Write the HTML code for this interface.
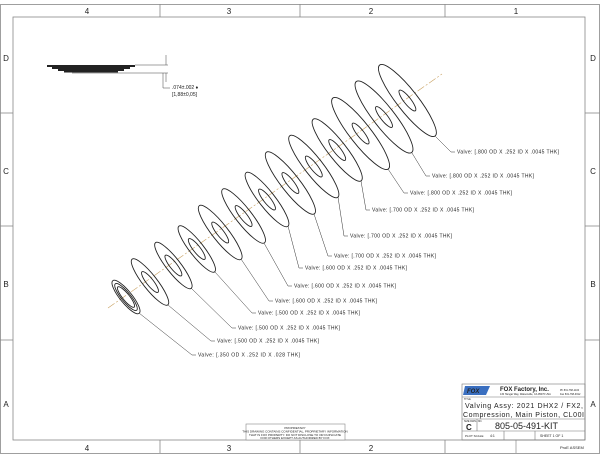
<!DOCTYPE html>
<html><head><meta charset="utf-8"><style>
html,body{margin:0;padding:0;background:#fff;width:600px;height:463px;overflow:hidden}
svg{display:block}
text{font-family:"Liberation Sans",sans-serif;fill:#222}
.m{font-family:"Liberation Mono",monospace;font-size:5px;fill:#333}
</style></head><body>
<svg width="600" height="463" viewBox="0 0 600 463" xmlns="http://www.w3.org/2000/svg">
<g stroke="#888" fill="none" stroke-width="0.8">
<rect x="0.5" y="4.5" width="599" height="449"/>
<rect x="13" y="17" width="572" height="423"/>
<line x1="160" y1="4" x2="160" y2="17"/><line x1="300" y1="4" x2="300" y2="17"/><line x1="445" y1="4" x2="445" y2="17"/>
<line x1="160" y1="440" x2="160" y2="453"/><line x1="300" y1="440" x2="300" y2="453"/><line x1="445" y1="440" x2="445" y2="453"/>
<line x1="0" y1="113" x2="13" y2="113"/><line x1="0" y1="226" x2="13" y2="226"/><line x1="0" y1="340" x2="13" y2="340"/>
<line x1="585" y1="113" x2="600" y2="113"/><line x1="585" y1="226" x2="600" y2="226"/><line x1="585" y1="340" x2="600" y2="340"/>
</g>
<g font-size="8" fill="#555" text-anchor="middle">
<text x="87" y="14">4</text><text x="229" y="14">3</text><text x="371" y="14">2</text><text x="516" y="14">1</text>
<text x="87" y="451">4</text><text x="229" y="451">3</text><text x="371" y="451">2</text>
<text x="6" y="61">D</text><text x="6" y="174">C</text><text x="6" y="287">B</text><text x="6" y="407">A</text>
<text x="593" y="61">D</text><text x="593" y="174">C</text><text x="593" y="287">B</text><text x="593" y="407">A</text>
</g>
<g fill="#222">
<rect x="47" y="65" width="88" height="2"/>
<rect x="52" y="67" width="78" height="2"/>
<rect x="58" y="69" width="66" height="2"/>
<rect x="64" y="71" width="54" height="1.5"/>
</g>
<g stroke="#444" stroke-width="0.5" fill="none">
<line x1="135" y1="65" x2="168" y2="65"/><line x1="72" y1="73" x2="168" y2="73"/>
<line x1="166" y1="55" x2="166" y2="65"/><line x1="166" y1="73" x2="166" y2="82"/>
<polyline points="163,73 163,88 170,88"/>
</g>
<text x="172" y="89" font-size="5" fill="#333">.074±.002 ♦</text>
<text x="172" y="96" font-size="5" fill="#333">[1,88±0,05]</text>
<line x1="108" y1="308" x2="442" y2="74" stroke="#c8a060" stroke-width="0.6" stroke-dasharray="8,2,2,2"/>
<g stroke="#222" fill="none" stroke-width="0.9">
<g transform="translate(126,297) rotate(51)"><ellipse rx="21" ry="6"/><ellipse rx="17" ry="4.6"/><ellipse rx="13" ry="3.4"/></g>
<g transform="translate(150,282) rotate(52)"><ellipse rx="29" ry="7"/><ellipse rx="13" ry="3.5"/></g>
<g transform="translate(173.4,265.5) rotate(52)"><ellipse rx="29" ry="7"/><ellipse rx="13" ry="3.5"/></g>
<g transform="translate(196.8,249) rotate(52)"><ellipse rx="29" ry="7"/><ellipse rx="13" ry="3.5"/></g>
<g transform="translate(220.2,232.5) rotate(52)"><ellipse rx="34" ry="8"/><ellipse rx="13" ry="3.5"/></g>
<g transform="translate(243.6,216) rotate(52)"><ellipse rx="34" ry="8"/><ellipse rx="13" ry="3.5"/></g>
<g transform="translate(267,199.5) rotate(52)"><ellipse rx="34" ry="8"/><ellipse rx="13" ry="3.5"/></g>
<g transform="translate(290.4,183) rotate(52)"><ellipse rx="39" ry="9"/><ellipse rx="13" ry="3.5"/></g>
<g transform="translate(313.8,166.5) rotate(52)"><ellipse rx="39" ry="9"/><ellipse rx="13" ry="3.5"/></g>
<g transform="translate(337.2,150) rotate(52)"><ellipse rx="39" ry="9"/><ellipse rx="13" ry="3.5"/></g>
<g transform="translate(360.6,133.5) rotate(52)"><ellipse rx="45" ry="10.5"/><ellipse rx="13" ry="3.5"/></g>
<g transform="translate(384,117) rotate(52)"><ellipse rx="45" ry="10.5"/><ellipse rx="13" ry="3.5"/></g>
<g transform="translate(407.4,100.5) rotate(52)"><ellipse rx="45" ry="10.5"/><ellipse rx="13" ry="3.5"/></g>
</g>
<g stroke="#333" stroke-width="0.5" fill="none">
<polyline points="139,313 192,355 196,355"/>
<polyline points="168,305 211,341 215,341"/>
<polyline points="191,288 232,328 236,328"/>
<polyline points="215,272 252,313 256,313"/>
<polyline points="241,259 269,301 273,301"/>
<polyline points="264,243 288,286 292,286"/>
<polyline points="288,226 299,268 303,268"/>
<polyline points="314,214 328,256 332,256"/>
<polyline points="338,197 344,236 348,236"/>
<polyline points="361,181 366,210 370,210"/>
<polyline points="388,169 404,193 408,193"/>
<polyline points="412,153 426,176 430,176"/>
<polyline points="435,136 451,152 455,152"/>
</g>
<g class="m">
<text x="198" y="356.6" textLength="102">Valve: [.350 OD X .252 ID X .028 THK]</text>
<text x="217" y="342.6" textLength="102">Valve: [.500 OD X .252 ID X .0045 THK]</text>
<text x="238" y="329.6" textLength="102">Valve: [.500 OD X .252 ID X .0045 THK]</text>
<text x="258" y="314.6" textLength="102">Valve: [.500 OD X .252 ID X .0045 THK]</text>
<text x="275" y="302.6" textLength="102">Valve: [.600 OD X .252 ID X .0045 THK]</text>
<text x="294" y="287.6" textLength="102">Valve: [.600 OD X .252 ID X .0045 THK]</text>
<text x="305" y="269.6" textLength="102">Valve: [.600 OD X .252 ID X .0045 THK]</text>
<text x="334" y="257.6" textLength="102">Valve: [.700 OD X .252 ID X .0045 THK]</text>
<text x="350" y="237.6" textLength="102">Valve: [.700 OD X .252 ID X .0045 THK]</text>
<text x="372" y="211.6" textLength="102">Valve: [.700 OD X .252 ID X .0045 THK]</text>
<text x="410" y="194.6" textLength="102">Valve: [.800 OD X .252 ID X .0045 THK]</text>
<text x="432" y="177.6" textLength="102">Valve: [.800 OD X .252 ID X .0045 THK]</text>
<text x="457" y="153.6" textLength="102">Valve: [.800 OD X .252 ID X .0045 THK]</text>
</g>
<rect x="246" y="424" width="99" height="16" fill="#fff" stroke="#888" stroke-width="0.6"/>
<g font-size="3" fill="#444" text-anchor="middle"><text x="295" y="429">PROPRIETARY</text><text x="295" y="432.5">THIS DRAWING CONTAINS CONFIDENTIAL, PROPRIETARY INFORMATION</text><text x="295" y="436">THAT IS FOX PROPERTY. DO NOT DISCLOSE TO OR DUPLICATE</text><text x="295" y="439">FOR OTHERS EXCEPT AS AUTHORIZED BY FOX</text></g>
<g stroke="#777" stroke-width="0.6" fill="none">
<rect x="462" y="384" width="123" height="56"/>
<line x1="462" y1="397" x2="585" y2="397"/>
<line x1="462" y1="419" x2="585" y2="419"/>
<line x1="462" y1="431" x2="585" y2="431"/>
<line x1="477" y1="419" x2="477" y2="431"/>
<line x1="504" y1="431" x2="504" y2="440"/>
<line x1="535" y1="431" x2="535" y2="440"/>
<line x1="516" y1="440" x2="516" y2="453"/>
</g>
<path d="M465,386 L490,386 L486,395 L463,395 Z" fill="#3a6fc0"/>
<text x="467" y="393" font-size="6" font-weight="bold" font-style="italic" fill="#fff">FOX</text>
<text x="500" y="391" font-size="6" font-weight="bold">FOX Factory, Inc.</text>
<text x="500" y="395" font-size="2.5" fill="#555">130 Hangar Way, Watsonville, CA 95076 USA</text>
<text x="560" y="391" font-size="2.5" fill="#555">Ph 831-768-1100</text>
<text x="560" y="395" font-size="2.5" fill="#555">Fax 831-768-9312</text>
<text x="464" y="400" font-size="2.5" fill="#555">TITLE</text>
<text x="465" y="408" font-family="Liberation Mono,monospace" font-size="7" fill="#444" textLength="118">Valving Assy: 2021 DHX2 / FX2,</text>
<text x="463" y="417" font-family="Liberation Mono,monospace" font-size="7" fill="#444" textLength="121">Compression, Main Piston, CL00I</text>
<text x="464" y="422" font-size="2.5" fill="#555">SIZE DWG. NO.</text>
<text x="466" y="430" font-size="8" font-weight="bold">C</text>
<text x="495" y="429" font-size="9" fill="#222">805-05-491-KIT</text>
<text x="465" y="437" font-size="3" fill="#555">PLOT SCALE</text><text x="490" y="437" font-size="3.5" fill="#555">4:1</text>
<text x="540" y="437" font-size="3.5" fill="#555">SHEET 1 OF 1</text>
<text x="560" y="449" font-size="4" fill="#555">ProE ASSEM</text>
</svg>
</body></html>
